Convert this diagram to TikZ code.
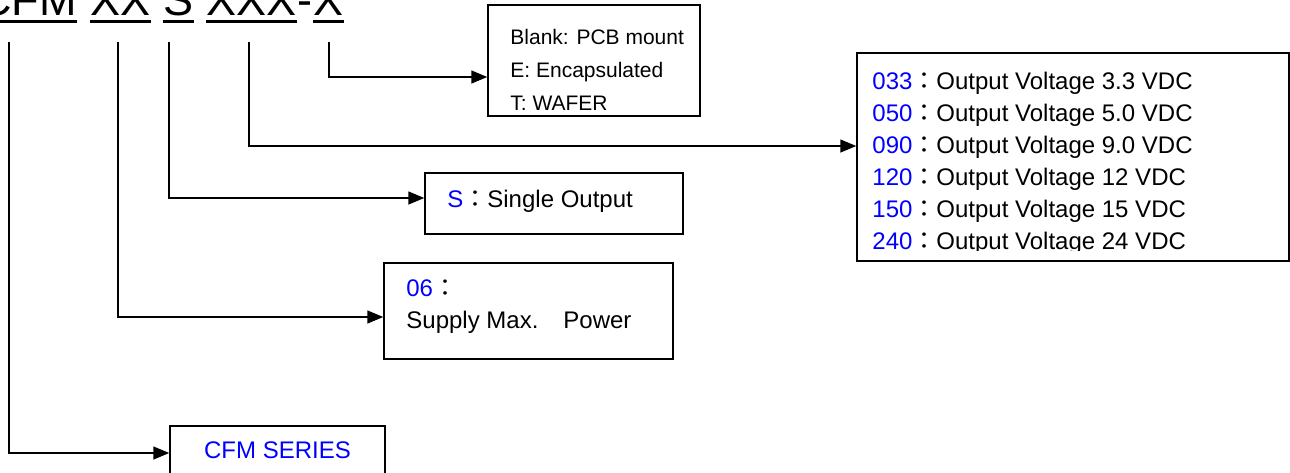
\documentclass[tikz,border=0pt]{standalone}
\usepackage{fontspec}
\setmainfont{Liberation Sans}
\newfontfamily\cjk{Noto Sans CJK TC}
\usetikzlibrary{arrows.meta}
\definecolor{codeblue}{RGB}{0,0,255}

\tikzset{
  box/.style={draw, line width=0.75pt, inner sep=0pt},
  arr/.style={line width=0.75pt, -{Triangle[length=8pt,width=6.5pt]}},
  uline/.style={line width=1.5pt},
  ttl/.style={anchor=base west, inner sep=0pt, font=\fontsize{22.5}{27}\selectfont},
  txt/.style={anchor=base west, inner sep=0pt, font=\fontsize{12}{16}\selectfont},
  smalltxt/.style={anchor=base west, inner sep=0pt, font=\fontsize{10.5}{14}\selectfont}
}

\begin{document}
\begin{tikzpicture}[x=0.5pt,y=-0.5pt]
        \useasboundingbox (0,0) rectangle (1290,472);

        % Part number
        \node[ttl] (tCFM) at (-21,15) {CFM};
        \node[ttl] (tXX) at ([xshift=6.25pt]tCFM.base east) {XX};
        \node[ttl] (tS) at ([xshift=6.25pt]tXX.base east) {S};
        \node[ttl] (tXXX) at ([xshift=6.25pt]tS.base east) {XXX};
        \node[ttl] (tDash) at (tXXX.base east) {-};
        \node[ttl] (tX) at (tDash.base east) {X};
        \foreach \n in {tCFM,tXX,tS,tXXX,tX}
            \draw[uline] ([yshift=-3.3pt]\n.base west) -- ([yshift=-3.3pt]\n.base east);

        % Start points of the connectors
        \coordinate (sCFM) at (9,42);
        \coordinate (sXX) at (118,42);
        \coordinate (sS) at (169,42);
        \coordinate (sXXX) at (249,42);
        \coordinate (sX) at (329,42);

        % Boxes
        \node[box, minimum width=106pt, minimum height=55.5pt] (bMount) at (594,60.5) {};
        \node[box, minimum width=216pt, minimum height=104pt] (bVolt) at (1073,157) {};
        \node[box, minimum width=129pt, minimum height=30.5pt] (bSingle) at (554,203.5) {};
        \node[box, minimum width=144.5pt, minimum height=48pt] (bPower) at (528.5,311) {};
        \node[box, minimum width=107.5pt, minimum height=24pt, text=codeblue,
              font=\fontsize{12}{16}\selectfont] (bSeries) at (277.5,450) {CFM SERIES};

        % Mounting
        \node[smalltxt] (mount1) at (510,44) {Blank: PCB mount};
        \node[smalltxt] (mount2) at (510,77) {E: Encapsulated};
        \node[smalltxt] (mount3) at (510,110) {T: WAFER};

        % Output voltage
        \begin{scope}
            \clip (857,53) rectangle (1289,250);
            \foreach \code/\volt [count=\i from 0] in {033/3.3, 050/5.0, 090/9.0, 120/12, 150/15, 240/24}
                \node[txt] (volt\i) at (872,89.5+32*\i)
                    {\textcolor{codeblue}{\code}{\cjk ：}Output Voltage \volt{} VDC};
        \end{scope}

        % Outputs
        \node[txt] (single) at (447,207) {\textcolor{codeblue}{S}{\cjk ：}Single Output};

        % Power
        \node[txt] (power1) at (406,296) {\textcolor{codeblue}{06}{\cjk ：}};
        \node[txt] (power2) at (406,328) {Supply Max.\hspace{12.5pt}Power};

        % Connectors
        \draw[arr] (sX) |- (bMount.west |- 0,77);
        \draw[arr] (sXXX) |- (bVolt.west |- 0,146);
        \draw[arr] (sS) |- (bSingle.west |- 0,198);
        \draw[arr] (sXX) |- (bPower.west |- 0,317);
        \draw[arr] (sCFM) |- (bSeries.west |- 0,453);
    \end{tikzpicture}
\end{document}
